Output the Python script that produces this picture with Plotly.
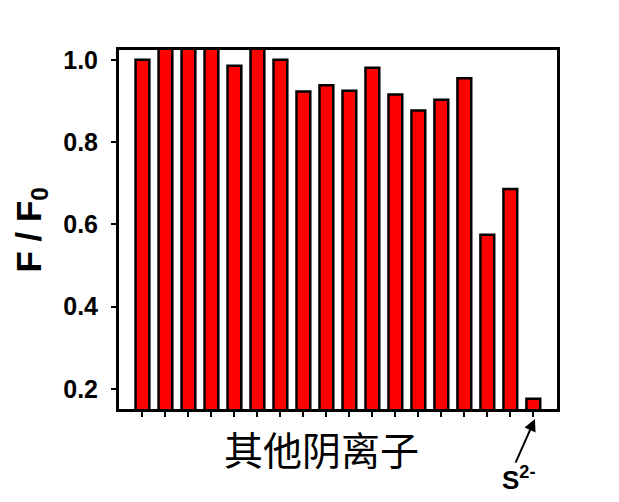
import plotly.graph_objects as go

positions = list(range(18))
values = [1.0, 1.05, 1.05, 1.05, 0.986, 1.05, 1.0, 0.923, 0.938, 0.925,
          0.981, 0.916, 0.877, 0.903, 0.955, 0.575, 0.686, 0.176]
y_ticks = [0.2, 0.4, 0.6, 0.8, 1.0]
y_ticklabels = ["0.2", "0.4", "0.6", "0.8", "1.0"]

fig = go.Figure()
fig.add_trace(go.Bar(
    x=positions, y=values, width=0.6,
    marker=dict(color="#ff0000", line=dict(color="black", width=2.5)),
))

# the page body has an 8px margin; shrink the figure to compensate
fig.update_layout(
    width=611, height=494,
    margin=dict(l=111, r=62, t=42, b=93),
    plot_bgcolor="white", paper_bgcolor="white",
    showlegend=False,
    font=dict(family="Liberation Sans, Arial", color="black"),
    xaxis=dict(
        range=[-1.02, 18.03], tickvals=positions, showticklabels=False,
        ticks="outside", ticklen=5, tickwidth=2, tickcolor="black",
        showline=True, linewidth=3, linecolor="black", mirror=True,
        showgrid=False, zeroline=False,
    ),
    yaxis=dict(
        range=[0.151, 1.024], tickvals=y_ticks, ticktext=y_ticklabels,
        ticks="outside", ticklen=5, tickwidth=2, tickcolor="black",
        showline=True, linewidth=3, linecolor="black", mirror=True,
        showgrid=False, zeroline=False,
        tickfont=dict(size=25, family="Liberation Sans, Arial", weight="bold"),
        ticklabelstandoff=8,
    ),
    annotations=[
        dict(text="F / F<sub>0</sub>", xref="paper", yref="paper",
             x=-0.203, y=0.5, textangle=-90, showarrow=False,
             xanchor="center", yanchor="middle",
             font=dict(size=35, family="Liberation Sans, Arial", weight="bold")),
        dict(text="其他阴离子", xref="paper", yref="paper",
             x=0.462, y=-0.025, showarrow=False, xanchor="center", yanchor="top",
             font=dict(size=39, family="Noto Sans CJK SC")),
        dict(text="", xref="x", yref="paper", x=17.07, y=-0.028,
             showarrow=True, ax=-20, ay=45, arrowhead=2, arrowsize=1.2,
             arrowwidth=2, arrowcolor="black"),
        dict(text="S<sup>2-</sup>", xref="x", yref="paper", x=16.38, y=-0.245,
             showarrow=False, xanchor="center", yanchor="bottom",
             font=dict(size=26, family="Liberation Sans, Arial", weight="bold")),
    ],
)

fig.write_html("out.html")
